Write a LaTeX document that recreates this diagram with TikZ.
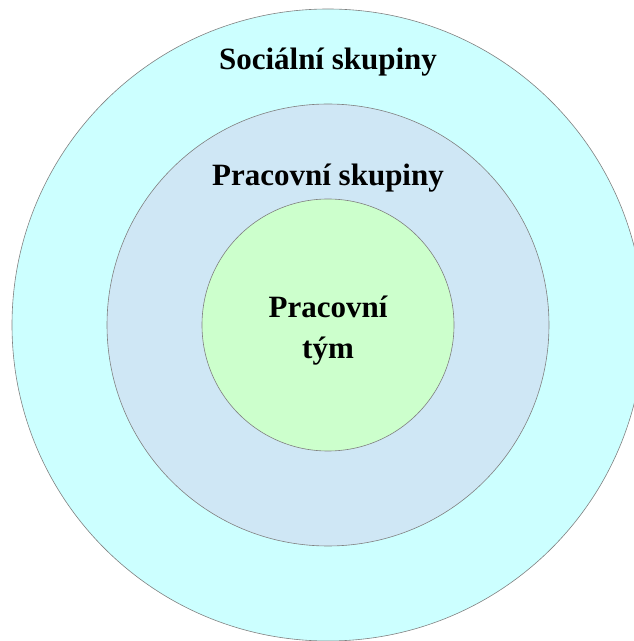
\documentclass[tikz,border=0pt]{standalone}
\usepackage{fontspec}
\setmainfont{Liberation Serif}
\usepackage{xcolor}
\usetikzlibrary{positioning}

\definecolor{socfill}{HTML}{CCFFFF}
\definecolor{pracfill}{HTML}{CFE7F5}
\definecolor{tymfill}{HTML}{CCFFCC}

\begin{document}
\begin{tikzpicture}[
    x=1pt,
    y=1pt,
    every node/.style={font=\bfseries\fontsize{31}{41}\selectfont},
    ring/.style={circle,draw=gray,line width=0.6pt,inner sep=0pt}
]

% Frame of the picture
\useasboundingbox (0,0) rectangle (633,641);
\coordinate (c) at (328,316);

% Nested groups
\node[ring,fill=socfill,minimum size=632pt] (social) at (c) {};
\node[ring,fill=pracfill,minimum size=442pt] (pracovni) at (c) {};
\node[ring,fill=tymfill,minimum size=252pt] (tym) at (c) {};

% Group labels
\node[anchor=base] (sociallabel) at ([yshift=-61pt]social.north)
    {Sociální skupiny};
\node[anchor=base] (pracovnilabel) at ([yshift=-82pt]pracovni.north)
    {Pracovní skupiny};
\node[align=center] (tymlabel) at ([yshift=-6pt]tym.center)
    {Pracovní\\tým};

\end{tikzpicture}
\end{document}
